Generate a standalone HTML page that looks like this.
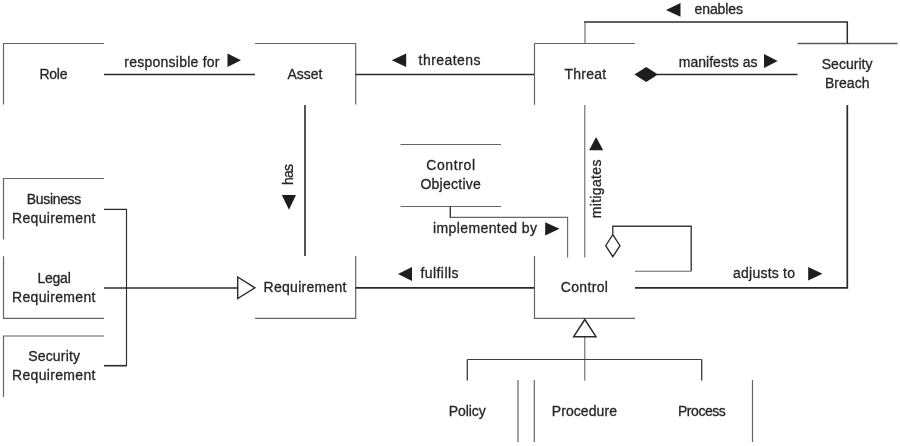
<!DOCTYPE html>
<html><head><meta charset="utf-8">
<style>
html,body{margin:0;padding:0;background:#fff;}
body{width:900px;height:446px;overflow:hidden;}
svg{display:block;filter:blur(0.35px);}
text{font-family:"Liberation Sans",sans-serif;font-size:14px;fill:#262626;stroke:#262626;stroke-width:0.3;}
.b{stroke:#646464;stroke-width:1.2;fill:none;}
.c{stroke:#2a2a2a;stroke-width:1.6;fill:none;}
.d{stroke:#3a3a3a;stroke-width:1.3;fill:none;}
.e{stroke:#666;stroke-width:1.1;fill:none;}
.f{stroke:#2c2c2c;stroke-width:1.15;fill:none;}
.t{fill:#1e1e1e;stroke:none;}
.h{fill:#fff;stroke:#2a2a2a;stroke-width:1.3;}
</style></head><body>
<svg width="900" height="446" viewBox="0 0 900 446">
<!-- box borders -->
<path class="b" d="M3.5 104.500V43.5H104"/>
<path class="b" d="M255 43.5H355.700V104.500"/>
<path class="b" d="M534.5 104.700V43.5H635"/>
<path class="b" d="M797.500 43.5H897.500" style="stroke:#585858;stroke-width:1.35"/>
<path class="b" d="M400.500 144.5H501M400.500 206.500H501"/>
<path class="b" d="M3.5 239.500V178.500H104"/>
<path class="b" d="M3.5 256.300V318.300H104"/>
<path class="b" d="M3.5 397V336H104"/>
<path class="b" d="M355.700 256V318.300H255"/>
<path class="b" d="M534.5 256V318.300H635"/>
<path class="b" d="M518 380V442"/>
<path class="b" d="M534.300 380V442"/>
<path class="b" d="M752.500 380V442"/>
<!-- connectors -->
<path class="c" d="M104 74.500H255" style="stroke-width:1.5"/>
<path class="c" d="M355.500 74.500H534" style="stroke-width:1.5"/>
<path class="c" d="M657 74.500H797.500" style="stroke-width:1.5"/>
<path class="c" d="M584 22H848"/>
<path class="e" d="M585 22V43"/>
<path class="c" d="M847.300 22V43.500" style="stroke-width:1.5"/>
<path class="c" d="M305 105V256"/>
<path class="e" d="M584.800 105V257.500"/>
<path class="c" d="M847.300 105V287.800H635" style="stroke-width:1.7"/>
<path class="c" d="M355.500 287.800H534" style="stroke-width:1.7"/>
<path class="c" d="M104 288H237.700" style="stroke-width:1.6"/>
<path class="f" d="M104 209.300H126.500V365.700"/>
<path class="c" d="M104 365.700H127"/>
<path class="e" d="M450.300 217.400H567.600V257.500"/>
<path class="d" d="M450.300 206.500V217.900" style="stroke-width:1.4"/>
<path class="d" d="M612.800 234V226.300H691.200V271.300" style="stroke-width:1.4"/>
<path class="e" d="M691.200 271.300H635"/>
<path class="e" d="M584.800 336.700V380.700"/>
<path class="f" d="M467.300 359.500H701.700" style="stroke:#3c3c3c"/>
<path class="d" d="M467.300 359.500V380.500M701.700 359.500V380.500"/>
<!-- markers -->
<path class="t" d="M227.500 53.500L241 60.300L227.500 67Z"/>
<path class="t" d="M406.200 53.500L391.800 60.200L406.200 67Z"/>
<path class="t" d="M764 54L777.700 61L764 68Z"/>
<path class="t" d="M680.500 3L666 10L680.500 16.700Z"/>
<path class="t" d="M808.200 267L822.500 273.700L808.200 280.500Z"/>
<path class="t" d="M545.200 222.200L559.500 228.800L545.200 235.400Z"/>
<path class="t" d="M412 267L398 274L412 281Z"/>
<path class="t" d="M281.800 195L296 195L289 209.700Z"/>
<path class="t" d="M589.100 150.200L603.200 150.200L596.100 136.900Z"/>
<path class="t" d="M634.500 74.500L646.200 67L658 74.500L646.200 82Z"/>
<path class="h" d="M612.800 234.700L620 245.700L612.800 256.700L605.700 245.700Z"/>
<path class="h" d="M237.700 277L254.900 287.800L237.700 298.500Z" style="stroke-width:1.4"/>
<path class="h" d="M584.800 319.500L596 336.700H573.700Z" style="stroke-width:1.5"/>
<!-- text -->
<g lengthAdjust="spacingAndGlyphs">
<text x="39.500" y="78.750" textLength="28">Role</text>
<text x="287.500" y="78.750" textLength="35">Asset</text>
<text x="564.500" y="78.750" textLength="41.750">Threat</text>
<text x="821.750" y="68.750" textLength="50.750">Security</text>
<text x="825" y="88" textLength="44.500">Breach</text>
<text x="426.200" y="170.400" textLength="48.900">Control</text>
<text x="420.400" y="189.200" textLength="60.500">Objective</text>
<text x="26.750" y="204" textLength="54.500">Business</text>
<text x="12" y="223" textLength="83.500">Requirement</text>
<text x="37.500" y="282.500" textLength="33.250">Legal</text>
<text x="12" y="302" textLength="83.500">Requirement</text>
<text x="28.250" y="361.250" textLength="51.750">Security</text>
<text x="12" y="380" textLength="83.500">Requirement</text>
<text x="263.600" y="291.900" textLength="82.900">Requirement</text>
<text x="560.800" y="291.900" textLength="47.100">Control</text>
<text x="448.750" y="415.500" textLength="37">Policy</text>
<text x="551.750" y="415.500" textLength="65.250">Procedure</text>
<text x="678" y="415.500" textLength="47.750">Process</text>
<text x="124.300" y="67" textLength="95.200">responsible for</text>
<text x="418.600" y="65" textLength="62">threatens</text>
<text x="678.750" y="67.300" textLength="78.750">manifests as</text>
<text x="694.500" y="13.750" textLength="48.500">enables</text>
<text x="733" y="278" textLength="62">adjusts to</text>
<text x="432.900" y="233.100" textLength="104.100">implemented by</text>
<text x="420.400" y="278" textLength="38.100">fulfills</text>
<text transform="translate(293.300,185.100) rotate(-90)" textLength="21">has</text>
<text transform="translate(600.700,218.300) rotate(-90)" textLength="58.700">mitigates</text>
</g>
</svg>
</body></html>
